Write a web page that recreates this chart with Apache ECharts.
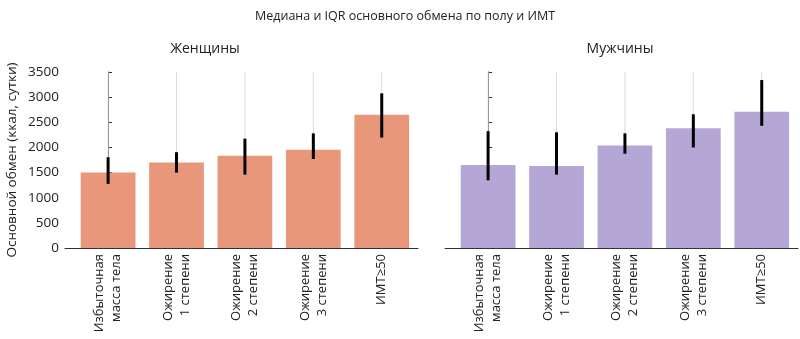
<!DOCTYPE html>
<html>
<head>
<meta charset="utf-8">
<script src="https://cdn.jsdelivr.net/npm/echarts@6/dist/echarts.min.js"></script>
<style>
  html, body { margin: 0; padding: 0; background: #fff; }
  #chart { width: 800px; height: 339px; }
</style>
</head>
<body>
<div id="chart"></div>
<script>
// категории ИМТ
var categories = ['Избыточная\nмасса тела', 'Ожирение\n1 степени', 'Ожирение\n2 степени', 'Ожирение\n3 степени', 'ИМТ≥50'];
var yTicks = [0, 500, 1000, 1500, 2000, 2500, 3000, 3500];

// женщины: медиана, Q1, Q3
var womenMedian = [1500, 1700, 1835, 1955, 2650];
var womenQ1 = [1275, 1500, 1460, 1770, 2195];
var womenQ3 = [1805, 1905, 2175, 2280, 3075];

// мужчины
var menMedian = [1650, 1630, 2040, 2380, 2710];
var menQ1 = [1345, 1460, 1875, 2000, 2430];
var menQ3 = [2325, 2300, 2280, 2660, 3340];

var font = 'Open Sans';
var axisColor = '#333';

function rows(med, q1, q3) {
  return med.map(function (m, i) { return [i, m, q1[i], q3[i]]; });
}

function renderBar(color) {
  return function (params, api) {
    var x = api.value(0);
    var base = api.coord([x, 0]);
    var top = api.coord([x, yTicks[yTicks.length - 1]]);
    var med = api.coord([x, api.value(1)]);
    var lo = api.coord([x, api.value(2)]);
    var hi = api.coord([x, api.value(3)]);
    var w = api.size([0.8, 0])[0];
    return {
      type: 'group',
      children: [
        { type: 'line', shape: { x1: base[0], y1: base[1], x2: top[0], y2: top[1] },
          style: { stroke: '#dcdcdc', lineWidth: 1 }, z2: 1 },
        { type: 'rect', shape: { x: med[0] - w / 2, y: med[1], width: w, height: base[1] - med[1] },
          style: { fill: color }, z2: 2 },
        { type: 'line', shape: { x1: lo[0], y1: lo[1], x2: hi[0], y2: hi[1] },
          style: { stroke: '#000', lineWidth: 3 }, z2: 3 }
      ]
    };
  };
}

function xAxis(idx) {
  return {
    type: 'value', gridIndex: idx, min: -0.63, max: 4.53,
    axisLine: { lineStyle: { color: axisColor, width: 1 } },
    axisTick: { show: true, inside: true, length: 4, customValues: [0, 1, 2, 3, 4], lineStyle: { color: axisColor } },
    axisLabel: {
      customValues: [0, 1, 2, 3, 4], rotate: 90, margin: 6,
      fontFamily: font, fontSize: 13, color: '#222', lineHeight: 17,
      formatter: function (v) { return categories[Math.round(v)]; }
    },
    splitLine: { show: false }
  };
}

function yAxis(idx, showLabels) {
  return {
    type: 'value', gridIndex: idx, min: 0, max: 3500, interval: 500,
    name: showLabels ? 'Основной обмен (ккал, сутки)' : '',
    nameLocation: 'middle', nameGap: 46,
    nameTextStyle: { fontFamily: font, fontSize: 13.5, color: '#222' },
    axisLine: { show: true, lineStyle: { color: axisColor, width: 1 } },
    axisTick: { show: true, inside: true, length: 4, lineStyle: { color: axisColor } },
    axisLabel: { show: showLabels, fontFamily: font, fontSize: 13.5, color: '#222', margin: 6,
      formatter: function (v) { return String(v); } },
    splitLine: { show: false }
  };
}

var chart = echarts.init(document.getElementById('chart'));
chart.setOption({
  animation: false,
  title: [
    { text: 'Медиана и IQR основного обмена по полу и ИМТ', left: 400, top: 5, textAlign: 'center',
      textStyle: { fontFamily: font, fontSize: 12.5, fontWeight: 'normal', color: '#222' } },
    { text: 'Женщины', left: 200, top: 37, textAlign: 'center',
      textStyle: { fontFamily: font, fontSize: 14, fontWeight: 'normal', color: '#222' } },
    { text: 'Мужчины', left: 615, top: 37, textAlign: 'center',
      textStyle: { fontFamily: font, fontSize: 14, fontWeight: 'normal', color: '#222' } }
  ],
  grid: [
    { left: 65, top: 72, width: 353, height: 176 },
    { left: 445, top: 72, width: 353, height: 176 }
  ],
  xAxis: [xAxis(0), xAxis(1)],
  yAxis: [yAxis(0, true), yAxis(1, false)],
  series: [
    { type: 'custom', xAxisIndex: 0, yAxisIndex: 0, renderItem: renderBar('#e8977a'),
      data: rows(womenMedian, womenQ1, womenQ3), encode: { x: 0, y: [1, 2, 3] } },
    { type: 'custom', xAxisIndex: 1, yAxisIndex: 1, renderItem: renderBar('#b4a7d6'),
      data: rows(menMedian, menQ1, menQ3), encode: { x: 0, y: [1, 2, 3] } }
  ]
});
</script>
</body>
</html>
